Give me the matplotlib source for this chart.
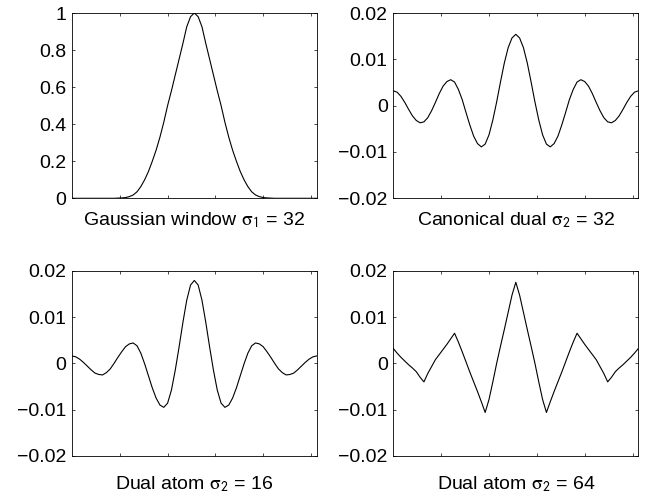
import numpy as np
import matplotlib
matplotlib.use('Agg')
import matplotlib.pyplot as plt

plt.rcParams['font.family'] = ['Liberation Sans', 'DejaVu Sans']
plt.rcParams['mathtext.fontset'] = 'stix'

# sample positions (every 8 samples of a 512 long window)
x = np.arange(0, 513, 8)

gauss = [0, 0, 0, 0, 0, 0, 0, 0, 0, 0, 0, 0,
         0.001, 0.002, 0.004, 0.009, 0.018, 0.035, 0.063, 0.10, 0.145, 0.20,
         0.26, 0.33, 0.41, 0.50, 0.58, 0.665, 0.75, 0.835, 0.925, 0.98,
         1.0,
         0.98, 0.925, 0.835, 0.75, 0.665, 0.58, 0.50, 0.41, 0.33, 0.26,
         0.20, 0.145, 0.10, 0.063, 0.035, 0.018, 0.009, 0.004, 0.002, 0.001,
         0, 0, 0, 0, 0, 0, 0, 0, 0, 0, 0, 0]

canon_dual = [0.0032, 0.0029, 0.0020, 0.0007, -0.0008, -0.0022, -0.0032, -0.0037,
              -0.0035, -0.0026, -0.0011, 0.0007, 0.0026, 0.0042, 0.0052, 0.0056,
              0.0051, 0.0035, 0.0013, -0.0015, -0.0042, -0.0066, -0.0082, -0.0089,
              -0.0083, -0.0063, -0.0031, 0.0008, 0.0051, 0.0092, 0.0125, 0.0146,
              0.0154,
              0.0146, 0.0125, 0.0092, 0.0051, 0.0008, -0.0031, -0.0063, -0.0083,
              -0.0089, -0.0082, -0.0066, -0.0042, -0.0015, 0.0013, 0.0035, 0.0051,
              0.0056, 0.0052, 0.0042, 0.0026, 0.0007, -0.0011, -0.0026, -0.0035,
              -0.0037, -0.0032, -0.0022, -0.0008, 0.0007, 0.0020, 0.0029, 0.0032]

dual_16 = [0.0016, 0.0014, 0.0009, 0.0002, -0.0006, -0.0014, -0.0021, -0.0024,
           -0.0025, -0.0020, -0.0012, 0.0000, 0.0013, 0.0025, 0.0036, 0.0042,
           0.0044, 0.0038, 0.0022, -0.0001, -0.0027, -0.0053, -0.0075, -0.0090,
           -0.0095, -0.0086, -0.0058, -0.0015, 0.0035, 0.0088, 0.0136, 0.0169,
           0.0179,
           0.0169, 0.0136, 0.0088, 0.0035, -0.0015, -0.0058, -0.0086, -0.0095,
           -0.0090, -0.0075, -0.0053, -0.0027, -0.0001, 0.0022, 0.0038, 0.0044,
           0.0042, 0.0036, 0.0025, 0.0013, 0.0000, -0.0012, -0.0020, -0.0025,
           -0.0024, -0.0021, -0.0014, -0.0006, 0.0002, 0.0009, 0.0014, 0.0016]

dual_64 = [0.0032, 0.0022, 0.0013, 0.0005, -0.0003, -0.0010, -0.0018, -0.0030,
           -0.0040, -0.0022, -0.0007, 0.0008, 0.0019, 0.0030, 0.0041, 0.0053,
           0.0065, 0.0046, 0.0025, 0.0003, -0.0019, -0.0040, -0.0061, -0.0083,
           -0.0106, -0.0078, -0.0040, 0.0000, 0.0037, 0.0073, 0.0110, 0.0147,
           0.0175,
           0.0147, 0.0110, 0.0073, 0.0037, 0.0000, -0.0040, -0.0078, -0.0106,
           -0.0083, -0.0061, -0.0040, -0.0019, 0.0003, 0.0025, 0.0046, 0.0065,
           0.0053, 0.0041, 0.0030, 0.0019, 0.0008, -0.0007, -0.0022, -0.0040,
           -0.0030, -0.0018, -0.0010, -0.0003, 0.0005, 0.0013, 0.0022, 0.0032]

titles = [r'Gaussian window $\mathrm{\sigma}_{\mathsf{1}}$ = 32',
          r'Canonical dual $\mathrm{\sigma}_{\mathsf{2}}$ = 32',
          r'Dual atom $\mathrm{\sigma}_{\mathsf{2}}$ = 16',
          r'Dual atom $\mathrm{\sigma}_{\mathsf{2}}$ = 64']

xticks = [100, 200, 300, 400, 500]
gauss_yticks = [0, 0.2, 0.4, 0.6, 0.8, 1]
gauss_ylabels = ['0', '0.2', '0.4', '0.6', '0.8', '1']
dual_yticks = [-0.02, -0.01, 0, 0.01, 0.02]
dual_ylabels = ['\u22120.02', '\u22120.01', '0', '0.01', '0.02']

W, H = 646, 493
fig = plt.figure(figsize=(W / 100, H / 100), dpi=100)

# axes boxes in pixels: left, top, right, bottom
boxes = [(72, 13, 316.7, 198.3), (393.3, 13, 638.3, 198.3),
         (72, 270.7, 316.7, 456), (393.3, 270.7, 638.3, 456)]
series = [gauss, canon_dual, dual_16, dual_64]

for i, (l, t, r, b) in enumerate(boxes):
    ax = fig.add_axes([l / W, 1 - b / H, (r - l) / W, (b - t) / H])
    ax.plot(x, series[i], color='black', lw=0.8)
    ax.set_xlim(0, 512)
    ax.set_xticks(xticks)
    ax.set_xticklabels([])
    if i == 0:
        ax.set_ylim(0, 1)
        ax.set_yticks(gauss_yticks)
        ax.set_yticklabels(gauss_ylabels)
    else:
        ax.set_ylim(-0.02, 0.02)
        ax.set_yticks(dual_yticks)
        ax.set_yticklabels(dual_ylabels)
    ax.tick_params(direction='in', top=True, right=True, length=2.5,
                   width=0.5, labelsize=14, pad=4)
    for s in ax.spines.values():
        s.set_linewidth(0.6)
    ax.set_xlabel(titles[i], fontsize=14, labelpad=5 if i < 2 else 9.5)

fig.savefig('out.png', dpi=100)
